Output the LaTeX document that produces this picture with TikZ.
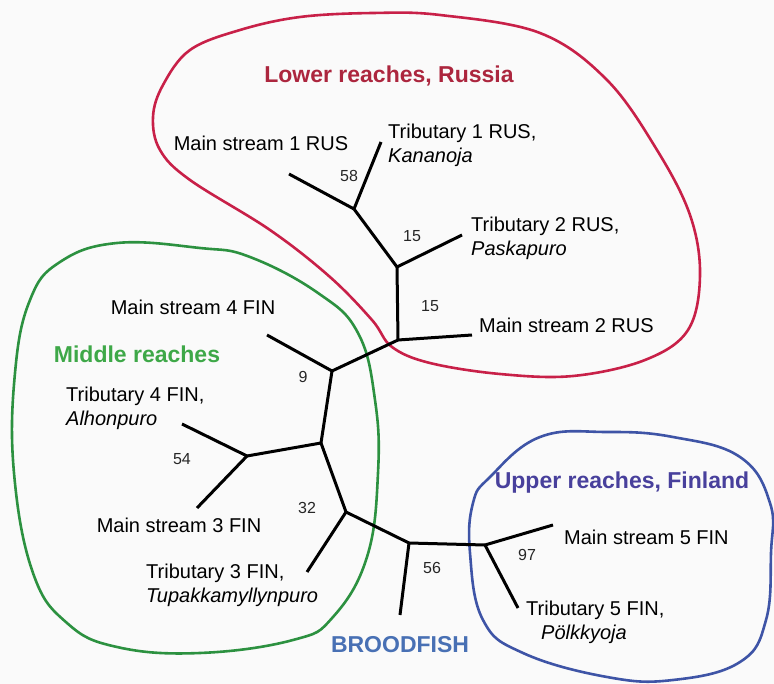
\documentclass[tikz,border=0pt]{standalone}
\usepackage{fontspec}
\setmainfont{Liberation Sans}
\definecolor{redline}{RGB}{200,32,72}
\definecolor{redtext}{RGB}{172,38,62}
\definecolor{greenline}{RGB}{44,145,64}
\definecolor{greentext}{RGB}{62,168,72}
\definecolor{blueline}{RGB}{62,84,166}
\definecolor{bluetext}{RGB}{72,64,156}
\definecolor{broodtext}{RGB}{72,112,180}
\definecolor{bg}{RGB}{250,250,250}
\tikzset{
  branch/.style={line width=3pt, black},
  lbl/.style={inner sep=0pt, font=\fontsize{20}{24}\selectfont, text=black},
  lbltwo/.style={lbl, align=left, anchor=west},
  boot/.style={inner sep=0pt, font=\fontsize{16}{18}\selectfont, text=black!85},
  ttl/.style={inner sep=0pt, font=\fontsize{23}{26}\selectfont\bfseries},
  hull/.style={line width=2.6pt}
}
\begin{document}
\begin{tikzpicture}[x=1pt,y=-1pt]
\fill[bg] (0,0) rectangle (774,684);
\useasboundingbox (0,0) rectangle (774,684);

% group outlines
\draw[hull, redline] plot[smooth cycle, tension=0.6] coordinates {
 (373,13) (440,15) (540,33) (607,80) (657,150) (690,215) (700,275)
 (688,330) (645,360) (573,376) (500,374) (430,363) (392,347) (372,320)
 (330,277) (270,230) (190,180) (160,150) (153,117) (163,85) (190,50)
 (240,30) (300,17)};
\draw[hull, greenline] plot[smooth cycle, tension=0.7] coordinates {
 (117,243) (200,248) (250,257) (318,293) (358,333) (375,400) (378,473)
 (367,557) (333,617) (293,640) (200,653) (117,647) (67,623) (33,573)
 (14,473) (15,373) (30,300) (60,262)};
\draw[hull, blueline] plot[smooth cycle, tension=0.7] coordinates {
 (490,477) (540,437) (607,432) (673,437) (740,457) (770,503) (771,553)
 (766,620) (740,662) (673,680) (607,677) (523,653) (483,620) (470,553)
 (473,503)};

% tree nodes
\coordinate (A) at (354,209);
\coordinate (B) at (397,267);
\coordinate (C) at (398,340);
\coordinate (D) at (332,371);
\coordinate (E) at (321,443);
\coordinate (F) at (247,456);
\coordinate (G) at (346,512);
\coordinate (H) at (409,543);
\coordinate (I) at (485,545);
% tips
\coordinate (ms1) at (289,174);
\coordinate (t1) at (381,142);
\coordinate (t2) at (462,235);
\coordinate (ms2) at (472,335);
\coordinate (ms4) at (267,335);
\coordinate (t4) at (182,424);
\coordinate (ms3) at (197,508);
\coordinate (t3) at (307,572);
\coordinate (bf) at (400,615);
\coordinate (ms5) at (553,525);
\coordinate (t5) at (518,608);

\draw[branch] (ms1) -- (A);
\draw[branch] (t1) -- (A);
\draw[branch] (A) -- (B);
\draw[branch] (t2) -- (B);
\draw[branch] (B) -- (C);
\draw[branch] (ms2) -- (C);
\draw[branch] (C) -- (D);
\draw[branch] (ms4) -- (D);
\draw[branch] (D) -- (E);
\draw[branch] (E) -- (F);
\draw[branch] (t4) -- (F);
\draw[branch] (ms3) -- (F);
\draw[branch] (E) -- (G);
\draw[branch] (t3) -- (G);
\draw[branch] (G) -- (H);
\draw[branch] (bf) -- (H);
\draw[branch] (H) -- (I);
\draw[branch] (ms5) -- (I);
\draw[branch] (t5) -- (I);

% labels
\node[lbl] (lms1) at (261,143) {Main stream 1 RUS};
\node[lbltwo] (lt1) at (388,145) {Tributary 1 RUS,\\\textit{Kananoja}};
\node[lbltwo] (lt2) at (471,238) {Tributary 2 RUS,\\\textit{Paskapuro}};
\node[lbl, anchor=west] (lms2) at (479,325) {Main stream 2 RUS};
\node[lbl] (lms4) at (193,307) {Main stream 4 FIN};
\node[lbltwo] (lt4) at (66,408) {Tributary 4 FIN,\\\textit{Alhonpuro}};
\node[lbl] (lms3) at (179,525) {Main stream 3 FIN};
\node[lbltwo] (lt3) at (146,585) {Tributary 3 FIN,\\\textit{Tupakkamyllynpuro}};
\node[lbl, anchor=west] (lms5) at (564,537) {Main stream 5 FIN};
\node[lbltwo] (lt5) at (526,622) {Tributary 5 FIN,\\\hspace*{15pt}\textit{Pölkkyoja}};

% bootstrap values
\node[boot] (b58) at (349,176) {58};
\node[boot] (b15a) at (412,236) {15};
\node[boot] (b15b) at (430,306) {15};
\node[boot] (b9) at (303,377) {9};
\node[boot] (b54) at (182,459) {54};
\node[boot] (b32) at (307,508) {32};
\node[boot] (b56) at (432,568) {56};
\node[boot] (b97) at (527,555) {97};

% titles
\node[ttl, text=redtext] (tred) at (389,76) {Lower reaches, Russia};
\node[ttl, text=greentext] (tgreen) at (137,354) {Middle reaches};
\node[ttl, text=bluetext] (tblue) at (622,483) {Upper reaches, Finland};
\node[ttl, text=broodtext] (tbrood) at (400,645) {BROODFISH};
\end{tikzpicture}
\end{document}
